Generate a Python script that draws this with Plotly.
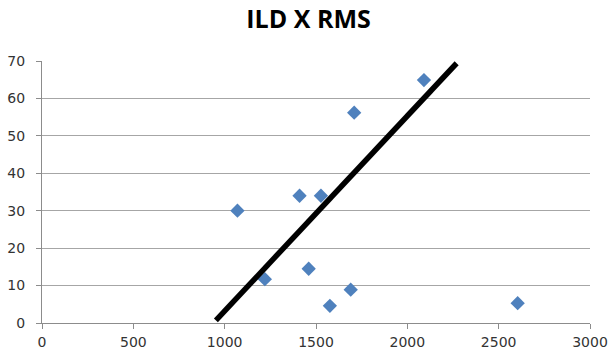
import plotly.graph_objects as go

# Data
ild = [1070, 1410, 1527, 1709, 2091, 1220, 1460, 1576, 1690, 2604]
rms = [30.0, 34.0, 34.0, 56.2, 64.9, 11.7, 14.5, 4.6, 8.9, 5.3]
trend_x = [952, 2270]
trend_y = [0.7, 69.4]
x_ticks = [0, 500, 1000, 1500, 2000, 2500, 3000]
y_ticks = [0, 10, 20, 30, 40, 50, 60, 70]

fig = go.Figure()
fig.add_trace(go.Scatter(
    x=ild, y=rms, mode="markers",
    marker=dict(symbol="diamond", size=11, color="#4F81BD"),
    showlegend=False, cliponaxis=False))
fig.add_trace(go.Scatter(
    x=trend_x, y=trend_y, mode="lines",
    line=dict(color="black", width=5.5),
    showlegend=False, cliponaxis=False))

tickfont = dict(family="DejaVu Sans", size=14, color="#333333")
fig.update_layout(
    template="none",
    width=611, height=356,
    margin=dict(l=42, r=21, t=61, b=33),
    paper_bgcolor="white", plot_bgcolor="white",
    title=dict(text="<b>ILD X RMS</b>", x=0.505, xanchor="center",
               y=0.945, yanchor="middle",
               font=dict(family="Open Sans", size=25, color="black")),
    xaxis=dict(range=[0, 3000], tickvals=x_ticks, showgrid=False,
               automargin=False,
               showline=True, linecolor="#8c8c8c", linewidth=1,
               ticks="outside", ticklen=5, tickcolor="#8c8c8c",
               tickfont=tickfont, zeroline=False, ticklabelstandoff=1),
    yaxis=dict(range=[0, 70], tickvals=y_ticks, showgrid=True,
               automargin=False,
               gridcolor="#a6a6a6", gridwidth=1,
               showline=True, linecolor="#8c8c8c", linewidth=1,
               ticks="outside", ticklen=5, tickcolor="#8c8c8c",
               tickfont=tickfont, zeroline=False, ticklabelstandoff=8),
)

fig.write_html("out.html")
